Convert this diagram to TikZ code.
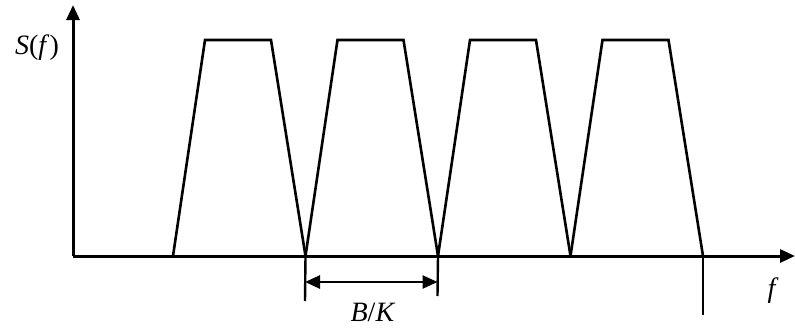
\documentclass[tikz,border=0pt]{standalone}
\usepackage{fontspec}
\setmainfont{Liberation Serif}
\usetikzlibrary{arrows.meta}
\begin{document}
\begin{tikzpicture}[x=1pt,y=-1pt,
  axis/.style={line width=3pt,-{Triangle[length=15pt,width=13pt]}},
  band/.style={line width=2.6pt,line join=miter},
  tick/.style={line width=2.4pt},
  dim/.style={line width=2.6pt,{Triangle[length=15pt,width=13pt]}-{Triangle[length=15pt,width=13pt]}},
  lbl/.style={font=\fontsize{28}{30}\selectfont, inner sep=0pt}]
\useasboundingbox (0,0) rectangle (795,327);
\coordinate (O) at (73,256);
\coordinate (ytop) at (73,5);
\coordinate (xend) at (795,256);
\draw[axis] (O) -- (ytop);
\draw[axis] (O) -- (xend);
\foreach \k in {0,1,2,3}{
  \pgfmathsetmacro{\b}{173+132.5*\k}
  \coordinate (bl\k) at (\b,256);
  \coordinate (tl\k) at (\b+32,40);
  \coordinate (tr\k) at (\b+98,40);
  \coordinate (br\k) at (\b+132.5,256);
  \draw[band] (bl\k) -- (tl\k) -- (tr\k) -- (br\k);
}
\coordinate (t1) at (305,301);
\coordinate (t2) at (437.5,296);
\coordinate (t3) at (703,315);
\draw[tick] (br0) -- (t1);
\draw[tick] (br1) -- (t2);
\draw[tick] (br3) -- (t3);
\coordinate (d1) at (305,282);
\coordinate (d2) at (437.5,282);
\draw[dim] (d1) -- (d2);
\node[lbl] (S) at (37,48) {\textit{S}(\textit{f})};
\node[lbl] (f) at (773,291) {\textit{f}};
\node[lbl] (BK) at (373,312) {\textit{B}/\textit{K}};
\end{tikzpicture}
\end{document}
